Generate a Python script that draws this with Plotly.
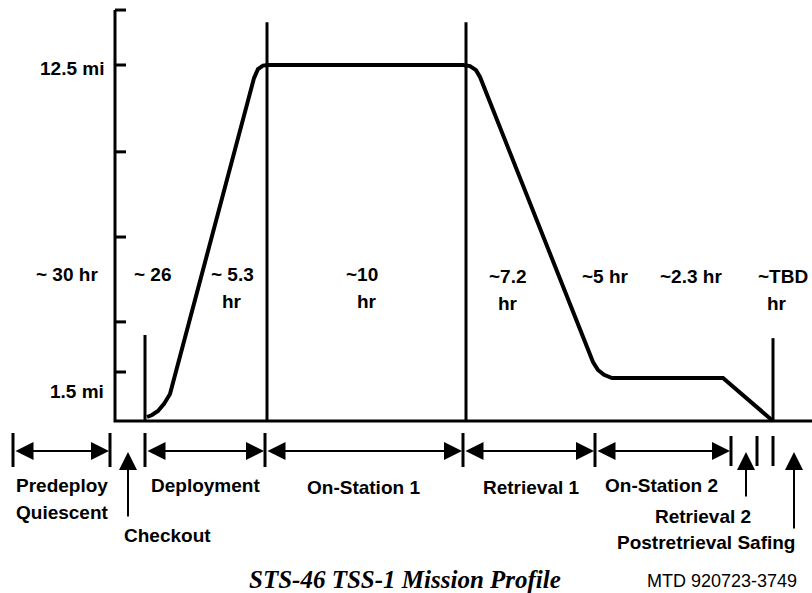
import plotly.graph_objects as go

# ---------------- data (diagram units: x = timeline position, y = tether length in miles) ----
# Tether deployed length profile
profile_x = [147, 152, 158, 164, 170, 254, 258, 263, 268, 463, 470, 476, 480, 593, 598, 604, 612, 723, 773]
profile_mi = [0.14, 0.21, 0.35, 0.60, 0.95, 12.04, 12.36, 12.48, 12.5, 12.5, 12.46, 12.32, 12.08, 2.07, 1.79, 1.62, 1.51, 1.51, 0.0]

# Vertical event markers over the profile
marker_x = [145, 267, 466, 773]
marker_top = [3.02, 14.0, 14.0, 2.91]

# Left length axis
axis_x = 115
axis_top = 14.43
axis_ticks_mi = [14.43, 12.5, 9.45, 6.46, 3.48, 1.72]
axis_labels = ["12.5 mi", "1.5 mi"]
axis_label_mi = [12.39, 1.02]
baseline_end = 812

# Durations (first line) and unit (second line)
dur_text = ["~ 30 hr", "~ 26", "~ 5.3", "~10", "~7.2", "~5 hr", "~2.3 hr", "~TBD"]
dur_x = [67, 153, 232, 362, 508, 605, 691, 783]
dur_mi = [5.13, 5.13, 5.13, 5.13, 5.06, 5.09, 5.09, 5.09]
unit_text = ["hr", "hr", "hr", "hr"]
unit_x = [232, 367, 508, 777]
unit_mi = [4.18, 4.18, 4.14, 4.14]

# Phase timeline (bottom)
phase_ticks = [13, 110, 145, 265, 463, 595]
small_ticks = [731, 757, 773]
phase_spans = [(13, 110), (145, 265), (265, 463), (463, 595), (595, 731)]
phase_names = ["Predeploy", "Quiescent", "Deployment", "On-Station 1", "Retrieval 1", "On-Station 2"]
phase_name_x = [62, 62, 205, 363, 531, 661]
phase_name_mi = [-2.28, -3.20, -2.28, -2.32, -2.32, -2.28]

pointer_names = ["Checkout", "Retrieval 2", "Postretrieval Safing"]
pointer_x = [128, 746, 794]
pointer_tail = [-3.41, -2.70, -3.83]
pointer_label_x = [167, 703, 706]
pointer_label_mi = [-4.02, -3.37, -4.25]

title_text = "STS-46 TSS-1 Mission Profile"
code_text = "MTD 920723-3749"

# ---------------- figure ----------------
PX_PER_MI = 28.48
BASE_PX = 421
def mi_of_px(p):
    return (BASE_PX - p) / PX_PER_MI

BLACK = "#000000"
LBL = dict(family="Liberation Sans, Arial, sans-serif", size=19, color=BLACK)

fig = go.Figure()

# baseline + axis
fig.add_trace(go.Scatter(x=[axis_x, axis_x, baseline_end], y=[axis_top, 0, 0], mode="lines",
                         line=dict(color=BLACK, width=3), hoverinfo="skip", showlegend=False))
# axis ticks
tx, ty = [], []
for t in axis_ticks_mi:
    tx += [axis_x, axis_x + 11, None]
    ty += [t, t, None]
fig.add_trace(go.Scatter(x=tx, y=ty, mode="lines", line=dict(color=BLACK, width=3),
                         hoverinfo="skip", showlegend=False))
# event markers
mx, my = [], []
for x, top in zip(marker_x, marker_top):
    mx += [x, x, None]
    my += [0, top, None]
fig.add_trace(go.Scatter(x=mx, y=my, mode="lines", line=dict(color=BLACK, width=3),
                         hoverinfo="skip", showlegend=False))
# profile
fig.add_trace(go.Scatter(x=profile_x, y=profile_mi, mode="lines",
                         line=dict(color=BLACK, width=4), hoverinfo="skip", showlegend=False))

# bottom timeline ticks
row_mi = mi_of_px(451)
bx, by = [], []
for x in phase_ticks:
    bx += [x, x, None]
    by += [mi_of_px(433), mi_of_px(467), None]
for x in small_ticks:
    bx += [x, x, None]
    by += [mi_of_px(436), mi_of_px(466), None]
fig.add_trace(go.Scatter(x=bx, y=by, mode="lines", line=dict(color=BLACK, width=3),
                         hoverinfo="skip", showlegend=False))

ann = []
# double arrows
for a, b in phase_spans:
    ann.append(dict(x=b - 1, y=row_mi, ax=a + 1, ay=row_mi, xref="x", yref="y", axref="x", ayref="y",
                    text="", showarrow=True, arrowhead=2, arrowside="end+start", arrowsize=1.8,
                    arrowwidth=2, arrowcolor=BLACK))
# pointer arrows
for x, tail in zip(pointer_x, pointer_tail):
    ann.append(dict(x=x, y=mi_of_px(452), ax=x, ay=tail, xref="x", yref="y", axref="x", ayref="y",
                    text="", showarrow=True, arrowhead=2, arrowsize=1.8, arrowwidth=2, arrowcolor=BLACK))

def label(t, x, m, anchor="center"):
    return dict(x=x, y=m, xref="x", yref="y", text="<b>%s</b>" % t, showarrow=False,
                xanchor=anchor, yanchor="middle", font=LBL)

for t, m in zip(axis_labels, axis_label_mi):
    ann.append(label(t, 106, m, "right"))
for t, x, m in zip(dur_text, dur_x, dur_mi):
    ann.append(label(t, x, m))
for t, x, m in zip(unit_text, unit_x, unit_mi):
    ann.append(label(t, x, m))
for t, x, m in zip(phase_names, phase_name_x, phase_name_mi):
    ann.append(label(t, x, m))
for t, x, m in zip(pointer_names, pointer_label_x, pointer_label_mi):
    ann.append(label(t, x, m))

# title + code
ann.append(dict(x=405, y=mi_of_px(579), xref="x", yref="y", text="<b><i>%s</i></b>" % title_text,
                showarrow=False, xanchor="center", yanchor="middle",
                font=dict(family="Liberation Serif, Times New Roman, serif", size=25, color=BLACK)))
ann.append(dict(x=722, y=mi_of_px(581), xref="x", yref="y", text=code_text, showarrow=False,
                xanchor="center", yanchor="middle",
                font=dict(family="Liberation Sans, Arial, sans-serif", size=18, color=BLACK)))

fig.update_layout(
    width=812, height=593,
    margin=dict(l=0, r=0, t=0, b=0),
    paper_bgcolor="white", plot_bgcolor="white",
    xaxis=dict(range=[0, 812], visible=False, fixedrange=True),
    yaxis=dict(range=[mi_of_px(593), mi_of_px(0)], visible=False, fixedrange=True),
    annotations=ann,
    showlegend=False,
)

fig.write_html("out.html", config={"displayModeBar": False},
               post_script="document.body.style.margin='0';document.body.style.overflow='hidden';")
